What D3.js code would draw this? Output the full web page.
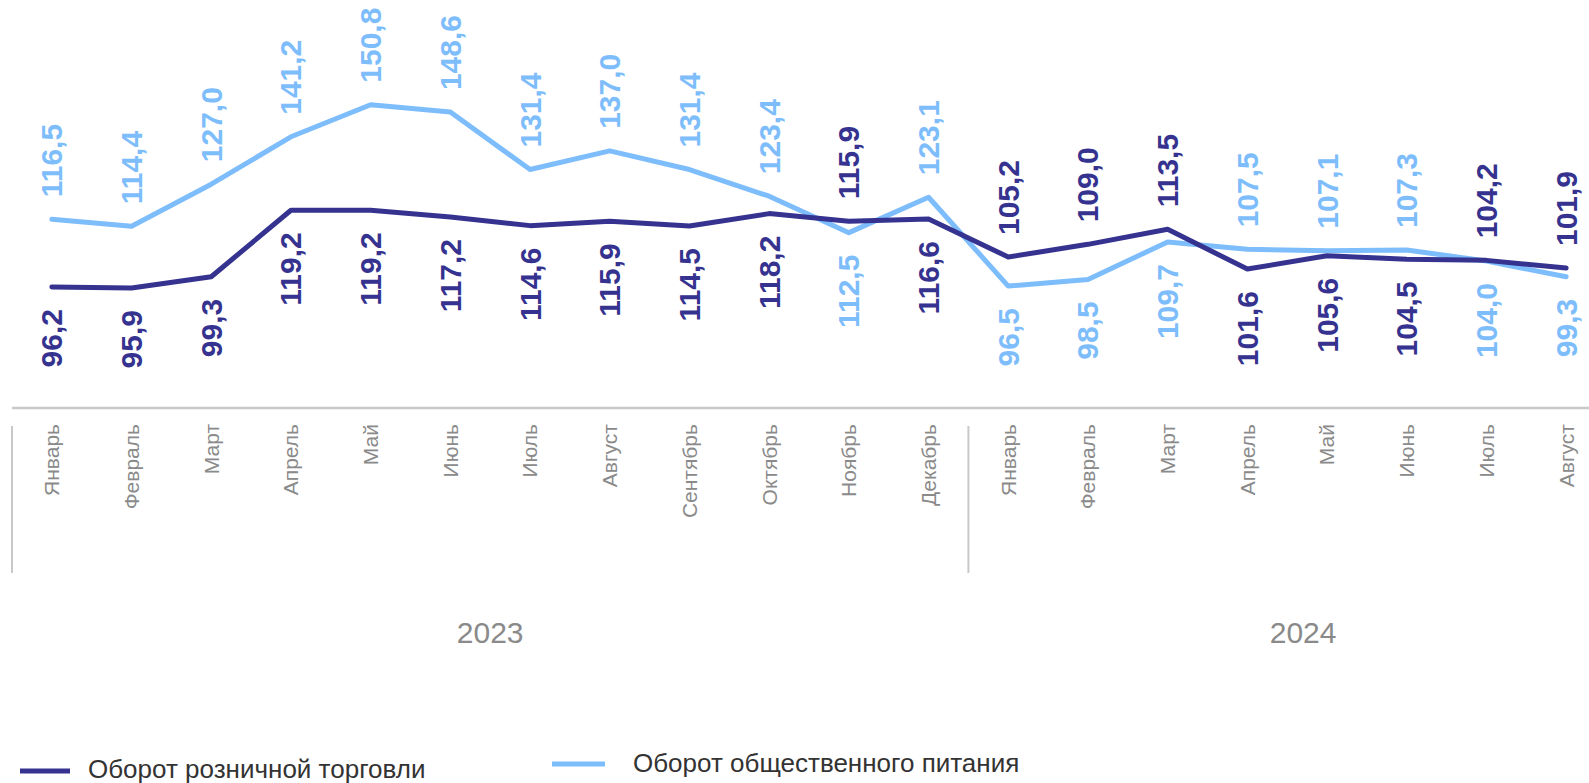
<!DOCTYPE html>
<html>
<head>
<meta charset="utf-8">
<script src="https://cdn.jsdelivr.net/npm/d3@7"></script>
<style>
  body { margin: 0; background: #fff; }
  svg { display: block; font-family: Arial, "Liberation Sans", sans-serif; }
</style>
</head>
<body>
<div class="lineChart"></div>
<script>
// months for two years
const months = ["Январь","Февраль","Март","Апрель","Май","Июнь","Июль","Август","Сентябрь","Октябрь","Ноябрь","Декабрь",
                "Январь","Февраль","Март","Апрель","Май","Июнь","Июль","Август"];
const years = ["2023","2024"];
const yearCounts = [12, 8];

const retail = [96.2,95.9,99.3,119.2,119.2,117.2,114.6,115.9,114.5,118.2,115.9,116.6,105.2,109.0,113.5,101.6,105.6,104.5,104.2,101.9];
const catering = [116.5,114.4,127.0,141.2,150.8,148.6,131.4,137.0,131.4,123.4,112.5,123.1,96.5,98.5,109.7,107.5,107.1,107.3,104.0,99.3];
// label side: 1 = above the point, 0 = below
const retailUp = [0,0,0,0,0,0,0,0,0,0,1,0,1,1,1,0,0,0,1,1];
const cateringUp = [1,1,1,1,1,1,1,1,1,1,0,1,0,0,0,1,1,1,0,0];

const seriesNames = ["Оборот розничной торговли","Оборот общественного питания"];
const colors = ["#35338f","#7dbdfb"];

const W = 1589, H = 783;
const svg = d3.select(".lineChart").append("svg").attr("width", W).attr("height", H);

const idx = d3.range(months.length);
const x = d3.scaleBand().domain(idx).range([12, 12 + 79.7 * months.length]);
const cx = i => x(i) + x.bandwidth() / 2;
const y = d3.scaleLinear().domain([60, 160]).range([408, 74]);

// axis line and separators
svg.append("line").attr("x1", 12).attr("x2", W).attr("y1", 408).attr("y2", 408)
   .attr("stroke", "#c8c8c8").attr("stroke-width", 2.5);
let start = 0;
yearCounts.forEach((n, k) => {
  const x0 = x(start);
  svg.append("line").attr("x1", x0).attr("x2", x0).attr("y1", 426).attr("y2", 573)
     .attr("stroke", "#c8c8c8").attr("stroke-width", 2);
  // second year label sits off-centre since the period runs past the edge
  const mid = x(start) + x.bandwidth() * (k == 0 ? n / 2 : 4.2);
  svg.append("text").attr("x", mid).attr("y", 643)
     .attr("text-anchor", "middle").attr("font-size", 30).attr("fill", "#8a8a8a")
     .text(years[k]);
  start += n;
});

// month labels
svg.append("g").selectAll("text").data(idx).join("text")
   .attr("transform", i => `translate(${cx(i)},424) rotate(-90)`)
   .attr("text-anchor", "end").attr("dy", "0.35em")
   .attr("font-size", 21).attr("fill", "#8a8a8a")
   .text(i => months[i]);

// lines
const line = d3.line().x((d, i) => cx(i)).y(d => y(d));
[catering, retail].forEach((s, k) => {
  svg.append("path").attr("d", line(s)).attr("fill", "none")
     .attr("stroke", colors[1 - k]).attr("stroke-width", 5)
     .attr("stroke-linejoin", "round").attr("stroke-linecap", "round");
});

// value labels
const fmt = v => v.toFixed(1).replace(".", ",");
[[retail, retailUp, colors[0]], [catering, cateringUp, colors[1]]].forEach(([s, up, c]) => {
  svg.append("g").selectAll("text").data(s).join("text")
     .attr("transform", (d, i) => `translate(${cx(i)},${up[i] ? y(d) - 22 : y(d) + 22}) rotate(-90)`)
     .attr("text-anchor", (d, i) => up[i] ? "start" : "end")
     .attr("dy", "0.35em")
     .attr("font-size", 30).attr("font-weight", "bold").attr("fill", c)
     .text(d => fmt(d));
});

// legend
const legend = [[20, 70, 771, 88, 778], [552, 605, 764, 633, 772]];
legend.forEach((p, k) => {
  svg.append("line").attr("x1", p[0]).attr("x2", p[1]).attr("y1", p[2]).attr("y2", p[2])
     .attr("stroke", colors[k]).attr("stroke-width", 5);
  svg.append("text").attr("x", p[3]).attr("y", p[4]).attr("font-size", 26).attr("fill", "#333")
     .text(seriesNames[k]);
});
</script>
</body>
</html>
